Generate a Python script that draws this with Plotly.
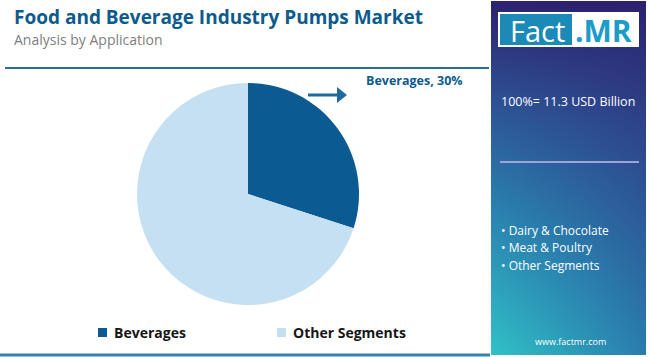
import plotly.graph_objects as go

# ---- data ----
categories = ["Beverages", "Other Segments"]
shares = [30, 70]
slice_colors = ["#0b5a91", "#c5e0f2"]
market_total = "100%= 11.3 USD Billion"
panel_items = ["Dairy & Chocolate", "Meat & Poultry", "Other Segments"]
title = "Food and Beverage Industry Pumps Market"
subtitle = "Analysis by Application"

W, H = 650, 357
def px(x):
    return x / W
def py(y):
    return 1 - y / H

FONT = "Open Sans"

fig = go.Figure()

# pie
fig.add_trace(go.Pie(
    labels=categories, values=shares, sort=False, direction="clockwise",
    rotation=0, marker=dict(colors=slice_colors, line=dict(width=0)),
    textinfo="none", hoverinfo="label+percent", showlegend=False,
    domain=dict(x=[px(137), px(359)], y=[py(305), py(83)]),
))

# gradient panel (heatmap on its own axes)
fig.add_trace(go.Heatmap(
    z=[[0.0, 0.45], [1.0, 1.0]], x=[0, 1], y=[0, 1], zsmooth="best",
    colorscale=[[0, "#30c2c7"], [0.45, "#2a7cad"], [0.75, "#2d4c90"], [1, "#2c226f"]],
    showscale=False, hoverinfo="skip", xaxis="x2", yaxis="y2",
))

shapes = []
annotations = []

# title lines
shapes.append(dict(type="line", xref="paper", yref="paper", x0=px(5), x1=px(489),
                   y0=py(68), y1=py(68), line=dict(color="#2a6e9c", width=2)))
shapes.append(dict(type="line", xref="paper", yref="paper", x0=px(0), x1=px(490),
                   y0=py(355), y1=py(355), line=dict(color="#3a7fae", width=3)))

annotations.append(dict(text=f"<b>{title}</b>", x=px(12), y=py(17), xref="paper", yref="paper",
                        xanchor="left", yanchor="middle", showarrow=False,
                        font=dict(family=FONT, size=19, color="#0d5b8d")))
annotations.append(dict(text=subtitle, x=px(12), y=py(39), xref="paper", yref="paper",
                        xanchor="left", yanchor="middle", showarrow=False,
                        font=dict(family=FONT, size=14, color="#808080")))

# callout arrow and label
shapes.append(dict(type="line", xref="paper", yref="paper", x0=px(308), x1=px(339),
                   y0=py(95), y1=py(95), line=dict(color="#1f69a0", width=3)))
shapes.append(dict(type="path", xref="paper", yref="paper",
                   path=f"M {px(337)} {py(87)} L {px(347)} {py(95)} L {px(337)} {py(103)} Z",
                   fillcolor="#1f69a0", line=dict(width=0)))
annotations.append(dict(text=f"<b>{categories[0]}, {shares[0]}%</b>", x=px(364), y=py(81),
                        xref="paper", yref="paper", xanchor="left", yanchor="middle",
                        showarrow=False, font=dict(family=FONT, size=12.5, color="#0d5b8d")))

# bottom legend
leg_x = [98, 277]
for cat, col, lx in zip(categories, slice_colors, leg_x):
    shapes.append(dict(type="rect", xref="paper", yref="paper", x0=px(lx), x1=px(lx + 9),
                       y0=py(337), y1=py(328), fillcolor=col, line=dict(width=0)))
    annotations.append(dict(text=f"<b>{cat}</b>", x=px(lx + 14), y=py(332), xref="paper",
                            yref="paper", xanchor="left", yanchor="middle", showarrow=False,
                            font=dict(family=FONT, size=14, color="#161616")))

# logo
shapes.append(dict(type="rect", xref="paper", yref="paper", x0=px(498), x1=px(639),
                   y0=py(47), y1=py(12), fillcolor="white", line=dict(width=0)))
shapes.append(dict(type="rect", xref="paper", yref="paper", x0=px(500), x1=px(572),
                   y0=py(45), y1=py(14), fillcolor="#1b8ab7", line=dict(width=0)))
annotations.append(dict(text="Fact", x=px(537), y=py(30), xref="paper", yref="paper",
                        xanchor="center", yanchor="middle", showarrow=False,
                        font=dict(family=FONT, size=29, color="white")))
annotations.append(dict(text="<b>.MR</b>", x=px(573), y=py(30), xref="paper", yref="paper",
                        xanchor="left", yanchor="middle", showarrow=False,
                        font=dict(family=FONT, size=30, color="#1c9cc8")))

# panel text
annotations.append(dict(text=market_total, x=px(568), y=py(101), xref="paper", yref="paper",
                        xanchor="center", yanchor="middle", showarrow=False,
                        font=dict(family=FONT, size=12.5, color="white")))
shapes.append(dict(type="line", xref="paper", yref="paper", x0=px(500), x1=px(639),
                   y0=py(162), y1=py(162), line=dict(color="#9fa3d6", width=2)))
for i, item in enumerate(panel_items):
    annotations.append(dict(text=f"• {item}", x=px(499), y=py(230 + 17.5 * i), xref="paper",
                            yref="paper", xanchor="left", yanchor="middle", showarrow=False,
                            font=dict(family=FONT, size=12, color="white")))
annotations.append(dict(text="www.factmr.com", x=px(570), y=py(341), xref="paper", yref="paper",
                        xanchor="center", yanchor="middle", showarrow=False,
                        font=dict(family=FONT, size=9, color="white")))

fig.update_layout(
    width=W, height=H, margin=dict(l=0, r=0, t=0, b=0),
    paper_bgcolor="white", plot_bgcolor="rgba(0,0,0,0)",
    xaxis2=dict(domain=[px(491), px(646)], range=[0, 1], visible=False, fixedrange=True,
                anchor="y2"),
    yaxis2=dict(domain=[py(355), py(1)], range=[0, 1], visible=False, fixedrange=True,
                anchor="x2"),
    shapes=shapes, annotations=annotations, showlegend=False,
)

fig.write_html("out.html", config={"displayModeBar": False},
               post_script="document.body.style.margin='0';document.body.style.overflow='hidden';")
